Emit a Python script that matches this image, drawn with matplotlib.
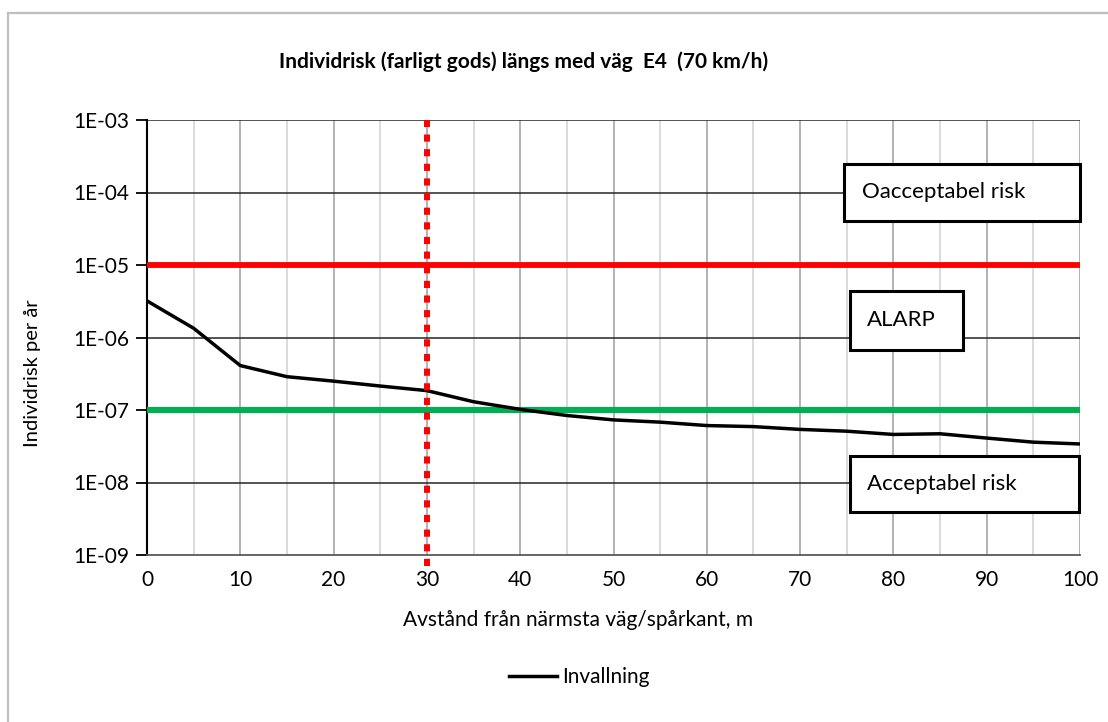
import matplotlib
matplotlib.use('Agg')
import matplotlib.pyplot as plt
from matplotlib.lines import Line2D
from matplotlib.patches import Rectangle

plt.rcParams['font.family'] = ['Lato', 'DejaVu Sans']

# avstånd (m) och individrisk per år
avstand = [0, 5, 10, 15, 20, 25, 30, 35, 40, 45, 50, 55, 60, 65, 70, 75, 80, 85, 90, 95, 100]
invallning = [3.2e-6, 1.34e-6, 4.1e-7, 2.88e-7, 2.5e-7, 2.14e-7, 1.85e-7, 1.30e-7, 1.02e-7,
              8.4e-8, 7.3e-8, 6.8e-8, 6.1e-8, 5.9e-8, 5.4e-8, 5.1e-8, 4.6e-8, 4.7e-8,
              4.1e-8, 3.6e-8, 3.4e-8]
grans_x = [0, 100]
oacceptabel = [1e-5, 1e-5]
acceptabel = [1e-7, 1e-7]
skyddsavstand = 30

ytick_vals = [1e-9, 1e-8, 1e-7, 1e-6, 1e-5, 1e-4, 1e-3]
ytick_labels = ['1E-09', '1E-08', '1E-07', '1E-06', '1E-05', '1E-04', '1E-03']
xtick_vals = list(range(0, 101, 10))

W, H = 1108, 722
fig = plt.figure(figsize=(W / 100, H / 100), dpi=100)
ax = fig.add_axes([147 / W, 1 - 555 / H, 933 / W, 435 / H])

# ram runt diagrammet (bara överkant/vänsterkant syns)
fig.add_artist(Line2D([8 / W, 8 / W], [0, 1 - 13 / H], color='#BFBFBF', lw=1.6))
fig.add_artist(Line2D([8 / W, 1], [1 - 13 / H, 1 - 13 / H], color='#BFBFBF', lw=1.6))

ax.set_yscale('log')
ax.set_ylim(1e-9, 1e-3)
ax.set_xlim(0, 100)

# rutnät
for xv in range(5, 101, 5):
    c = '#A6A6A6' if xv % 10 == 0 else '#D4D4D4'
    ax.axvline(xv, color=c, lw=1.2, zorder=1)
for yv in ytick_vals[1:]:
    ax.axhline(yv, color='#262626', lw=1.1, zorder=1)

ax.plot(grans_x, oacceptabel, color='#FF0000', lw=4.2, zorder=3)
ax.plot(grans_x, acceptabel, color='#00B050', lw=4.4, zorder=3)
ax.plot(avstand, invallning, color='black', lw=2.5, zorder=4, label='Invallning')
ax.axvline(skyddsavstand, ymin=-0.025, ymax=1, color='#FF0000', lw=4.3,
           linestyle=(0, (1.2, 1.25)), zorder=5, clip_on=False)

ax.set_yticks(ytick_vals)
ax.set_yticklabels(ytick_labels)
ax.yaxis.set_minor_locator(matplotlib.ticker.NullLocator())
ax.set_xticks(xtick_vals)
ax.tick_params(axis='y', direction='out', length=8, width=1.3, pad=4.5, labelsize=15, colors='black')
ax.tick_params(axis='x', length=0, pad=11, labelsize=15)

for s in ['top', 'right']:
    ax.spines[s].set_visible(False)
ax.spines['left'].set_linewidth(1.5)
ax.spines['bottom'].set_linewidth(1.3)
ax.spines['bottom'].set_color('#595959')

ax.set_xlabel('Avstånd från närmsta väg/spårkant, m', fontsize=15)
ax.xaxis.label.set_va('center')
ax.xaxis.set_label_coords(0.462, -0.149)
ax.set_ylabel('Individrisk per år', fontsize=14.5)
ax.yaxis.label.set_va('center')
ax.yaxis.set_label_coords(-0.123, 0.418)

fig.text(524 / W, 1 - 62 / H, 'Individrisk (farligt gods) längs med väg  E4  (70 km/h)',
         ha='center', va='center', fontsize=15, fontweight='bold')

# textrutor
def ruta(x0, y0, x1, y1, txt, tx):
    ax.add_patch(Rectangle(((x0 - 147) / 933, (555 - y1) / 435), (x1 - x0) / 933, (y1 - y0) / 435,
                           transform=ax.transAxes, facecolor='white', edgecolor='black',
                           lw=2.2, zorder=6, clip_on=False))
    ax.text((tx - 147) / 933, (555 - (y0 + y1) / 2) / 435, txt, transform=ax.transAxes,
            ha='left', va='center', fontsize=16, zorder=7)

ruta(844, 164, 1080, 221, 'Oacceptabel risk', 862)
ruta(850, 291, 963, 350, 'ALARP', 867)
ruta(850, 456, 1079, 512, 'Acceptabel risk', 867)

fig.legend(loc='center', bbox_to_anchor=(579 / W, 1 - 677 / H), frameon=False,
           fontsize=15, handlelength=2.3, handletextpad=0.25)

fig.savefig('out.png', dpi=100)
